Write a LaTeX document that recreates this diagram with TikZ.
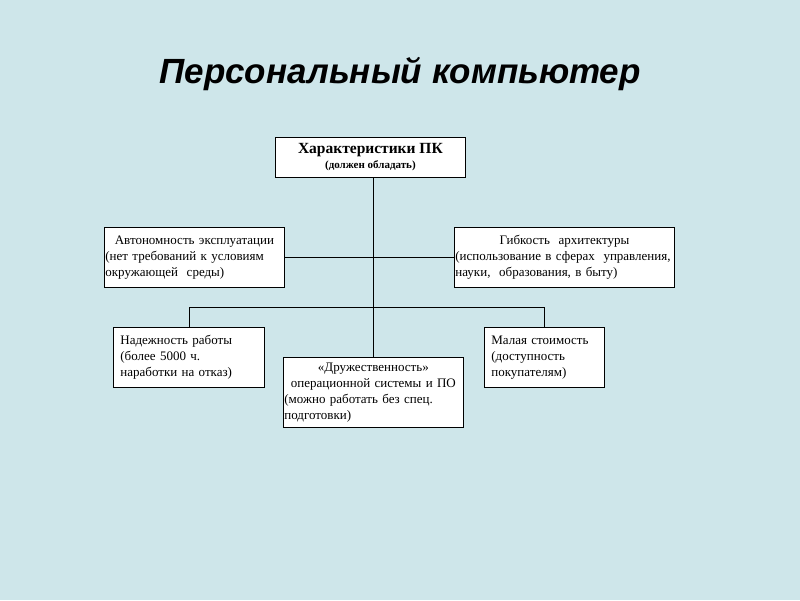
\documentclass[tikz,border=0pt]{standalone}
\usepackage{fontspec}
\setmainfont{Liberation Serif}
\newfontfamily\titlefont{Liberation Sans}
\definecolor{slidebg}{RGB}{206,230,234}

\begin{document}
\begin{tikzpicture}[x=1pt, y=-1pt,
        box/.style={draw, line width=0.8pt, fill=white, anchor=north west, inner ysep=0pt, align=left,
                    font=\fontsize{13}{16}\selectfont},
        link/.style={line width=0.8pt}]
            \fill[slidebg] (0,0) rectangle (800,600);
            \useasboundingbox (0,0) rectangle (800,600);

            \node[font=\titlefont\bfseries\itshape\fontsize{35}{40}\selectfont] (title) at (400,74) {Персональный компьютер};

            % top box
            \node[box, align=center, minimum width=190pt, minimum height=40pt, inner xsep=0pt] (pc) at (275,137)
                {{\fontsize{15.5}{17}\selectfont\bfseries Характеристики ПК}\\[-1pt]{\fontsize{11}{12}\selectfont\bfseries (должен обладать)}};

            % middle row
            \node[box, text width=178pt, inner xsep=1pt, minimum height=60pt] (autonomy) at (104,227)
                {\makebox[\linewidth]{Автономность эксплуатации}\\(нет требований к условиям\\окружающей~~среды)};
            \node[box, text width=218pt, inner xsep=1pt, minimum height=60pt] (flexibility) at (454,227)
                {\makebox[\linewidth]{Гибкость~~архитектуры}\\(использование в сферах~~управления,\\науки,~~образования, в быту)};

            % bottom row
            \node[box, text width=137pt, inner xsep=7pt, minimum height=60pt] (reliability) at (113,327)
                {Надежность работы\\(более 5000 ч.\\наработки на отказ)};
            \node[box, text width=178pt, inner xsep=1pt, minimum height=70pt] (friendly) at (283,357)
                {\makebox[\linewidth]{«Дружественность»}\\\makebox[\linewidth]{операционной системы и ПО}\\(можно работать без спец.\\подготовки)};
            \node[box, text width=106pt, inner xsep=7pt, minimum height=60pt] (cost) at (484,327)
                {Малая стоимость\\(доступность\\покупателям)};

            \draw[link] (friendly.north |- pc.south) -- (friendly.north);
            \draw[link] (autonomy) -- (flexibility);
            \draw[link] (reliability.north) -- ++(0,-20) -| (cost.north);
\end{tikzpicture}
\end{document}
